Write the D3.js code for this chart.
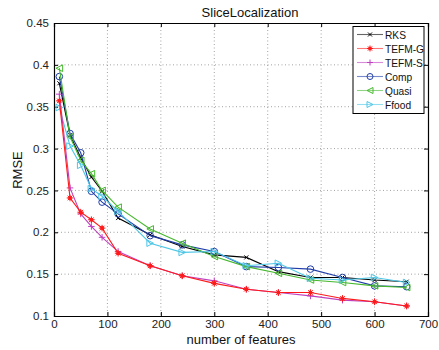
<!DOCTYPE html>
<html><head><meta charset="utf-8">
<script src="https://cdn.jsdelivr.net/npm/d3@7"></script>
<style>body{margin:0;background:#fff}svg{display:block}text{font-family:"Liberation Sans",Arial,sans-serif}</style>
</head><body>
<svg id="c" width="439" height="350"></svg>
<script>
const features = [10, 30, 50, 70, 90, 120, 180, 240, 300, 360, 420, 480, 540, 600, 660];
const rks   = [0.378, 0.316, 0.289, 0.266, 0.249, 0.217, 0.197, 0.183, 0.173, 0.170, 0.153, 0.146, 0.146, 0.143, 0.141];
const tefmG = [0.357, 0.241, 0.224, 0.215, 0.205, 0.175, 0.160, 0.148, 0.139, 0.132, 0.128, 0.128, 0.121, 0.117, 0.112];
const tefmS = [0.365, 0.253, 0.222, 0.207, 0.194, 0.177, 0.160, 0.148, 0.142, 0.132, 0.128, 0.124, 0.119, 0.117, 0.112];
const comp  = [0.386, 0.318, 0.295, 0.249, 0.236, 0.222, 0.196, 0.185, 0.177, 0.159, 0.158, 0.156, 0.146, 0.136, 0.135];
const quasi = [0.396, 0.314, 0.286, 0.270, 0.250, 0.230, 0.204, 0.187, 0.171, 0.159, 0.151, 0.143, 0.140, 0.136, 0.134];
const ffood = [0.349, 0.303, 0.280, 0.252, 0.243, 0.225, 0.187, 0.176, 0.177, 0.160, 0.163, 0.145, 0.143, 0.146, 0.140];
const xTicks = [0, 100, 200, 300, 400, 500, 600, 700];
const yTicks = [0.1, 0.15, 0.2, 0.25, 0.3, 0.35, 0.4, 0.45];
const seriesNames = ["RKS", "TEFM-G", "TEFM-S", "Comp", "Quasi", "Ffood"];

const series = [
  {name: seriesNames[0], vals: rks,   color: "#000000", marker: "x"},
  {name: seriesNames[1], vals: tefmG, color: "#ff1a1a", marker: "star"},
  {name: seriesNames[2], vals: tefmS, color: "#bf40bf", marker: "plus"},
  {name: seriesNames[3], vals: comp,  color: "#1f3da8", marker: "circle"},
  {name: seriesNames[4], vals: quasi, color: "#45b82d", marker: "left"},
  {name: seriesNames[5], vals: ffood, color: "#4cc6e6", marker: "right"}
];

const svg = d3.select("#c");
const L = 54, R = 428, T = 23, B = 316;
const x = d3.scaleLinear().domain([0, 700]).range([L, R]);
const y = d3.scaleLinear().domain([0.1, 0.45]).range([B, T]);

// grid
const g = svg.append("g");
g.selectAll(".gx").data(xTicks.slice(1, -1)).enter().append("line")
  .attr("x1", d => x(d)).attr("x2", d => x(d)).attr("y1", T).attr("y2", B)
  .attr("stroke", "#8a8a8a").attr("stroke-width", 0.8).attr("stroke-dasharray", "1,2.5");
g.selectAll(".gy").data(yTicks.slice(1, -1)).enter().append("line")
  .attr("y1", d => y(d)).attr("y2", d => y(d)).attr("x1", L).attr("x2", R)
  .attr("stroke", "#8a8a8a").attr("stroke-width", 0.8).attr("stroke-dasharray", "1,2.5");

// axes
const fmtY = d => String(+d.toFixed(2));
const ax = svg.append("g").attr("transform", `translate(0,${B})`)
  .call(d3.axisBottom(x).tickValues(xTicks).tickSize(-4).tickPadding(4).tickFormat(d3.format("d")));
const axT = svg.append("g").attr("transform", `translate(0,${T})`)
  .call(d3.axisTop(x).tickValues(xTicks).tickSize(-4).tickFormat(""));
const ay = svg.append("g").attr("transform", `translate(${L},0)`)
  .call(d3.axisLeft(y).tickValues(yTicks).tickSize(-4).tickPadding(5).tickFormat(fmtY));
const ayR = svg.append("g").attr("transform", `translate(${R},0)`)
  .call(d3.axisRight(y).tickValues(yTicks).tickSize(-4).tickFormat(""));
[ax, axT, ay, ayR].forEach(a => {
  a.select(".domain").attr("stroke", "#000").attr("stroke-width", 1.2);
  a.selectAll(".tick line").attr("stroke", "#000");
  a.selectAll("text").attr("font-size", 11.5).attr("fill", "#222")
   .attr("font-family", '"Liberation Sans",Arial,sans-serif');
});

// marker drawing
function drawMarker(sel, type, color, cx, cy, s) {
  const m = sel.append("g").attr("transform", `translate(${cx},${cy})`);
  if (type === "x") {
    m.append("path").attr("d", `M${-s},${-s}L${s},${s}M${-s},${s}L${s},${-s}`).attr("stroke", color).attr("stroke-width", 1);
  } else if (type === "star") {
    m.append("path").attr("d", `M${-s},0L${s},0M0,${-s}L0,${s}M${-s*.7},${-s*.7}L${s*.7},${s*.7}M${-s*.7},${s*.7}L${s*.7},${-s*.7}`).attr("stroke", color).attr("stroke-width", 1);
    m.append("circle").attr("r", s * 0.6).attr("fill", color);
  } else if (type === "plus") {
    m.append("path").attr("d", `M${-s},0L${s},0M0,${-s}L0,${s}`).attr("stroke", color).attr("stroke-width", 1);
  } else if (type === "circle") {
    m.append("circle").attr("r", s).attr("fill", "none").attr("stroke", color).attr("stroke-width", 1);
  } else if (type === "left") {
    m.append("path").attr("d", `M${-s},0L${s},${-s}L${s},${s}Z`).attr("fill", "none").attr("stroke", color).attr("stroke-width", 1);
  } else if (type === "right") {
    m.append("path").attr("d", `M${s},0L${-s},${-s}L${-s},${s}Z`).attr("fill", "none").attr("stroke", color).attr("stroke-width", 1);
  }
}

const line = d3.line().x((d, i) => x(features[i])).y(d => y(d));
const plot = svg.append("g");
const order = [0, 3, 4, 5, 2, 1];
order.forEach(k => {
  const s = series[k];
  plot.append("path").datum(s.vals).attr("d", line).attr("fill", "none")
    .attr("stroke", s.color).attr("stroke-width", 1.1);
  s.vals.forEach((v, i) => drawMarker(plot, s.marker, s.color, x(features[i]), y(v), s.marker === "x" ? 2 : 3.3));
});

// title and labels
svg.append("text").attr("x", 250).attr("y", 17).attr("text-anchor", "middle")
  .attr("font-size", 13).attr("fill", "#111").text("SliceLocalization");
svg.append("text").attr("x", 241).attr("y", 344).attr("text-anchor", "middle")
  .attr("font-size", 13).attr("fill", "#111").text("number of features");
svg.append("text").attr("transform", "translate(22,170) rotate(-90)").attr("text-anchor", "middle")
  .attr("font-size", 13).attr("fill", "#111").text("RMSE");

// legend
const lg = svg.append("g");
lg.append("rect").attr("x", 353).attr("y", 26.5).attr("width", 71).attr("height", 87)
  .attr("fill", "#fff").attr("stroke", "#000").attr("stroke-width", 1);
series.forEach((s, i) => {
  const ly = 34.5 + i * 14;
  lg.append("line").attr("x1", 357).attr("x2", 383).attr("y1", ly).attr("y2", ly)
    .attr("stroke", s.color).attr("stroke-width", 1.1).attr("stroke-opacity", 0.6);
  drawMarker(lg, s.marker, s.color, 370, ly, s.marker === "x" ? 2 : 3);
  lg.append("text").attr("x", 385).attr("y", ly + 4).attr("font-size", 10.2).attr("fill", "#111").text(s.name);
});
</script>
</body></html>
